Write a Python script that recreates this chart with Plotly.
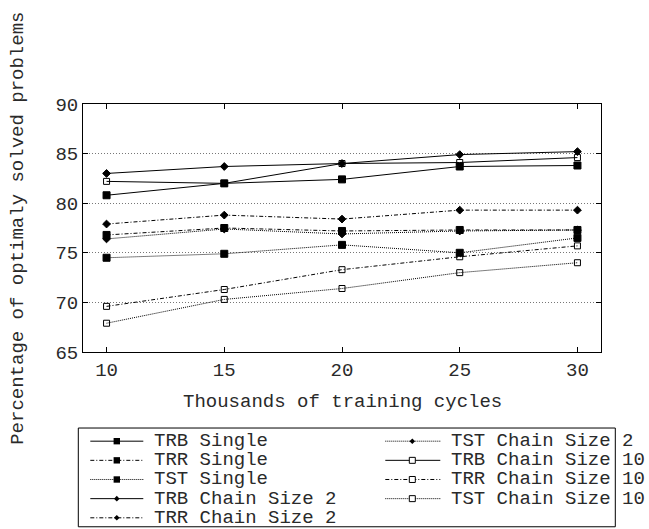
import plotly.graph_objects as go

# ---- data ----
cycles = [10, 15, 20, 25, 30]
trb_single = [80.8, 82.0, 82.4, 83.7, 83.8]
trr_single = [76.8, 77.5, 77.2, 77.3, 77.3]
tst_single = [74.5, 74.9, 75.8, 75.0, 76.5]
trb_chain2 = [83.0, 83.7, 84.0, 84.9, 85.2]
trr_chain2 = [77.9, 78.8, 78.4, 79.3, 79.3]
tst_chain2 = [76.4, 77.4, 76.9, 77.2, 77.3]
trb_chain10 = [82.2, 82.0, 84.0, 84.1, 84.6]
trr_chain10 = [69.6, 71.3, 73.3, 74.6, 75.7]
tst_chain10 = [67.9, 70.3, 71.4, 73.0, 74.0]

series_names = ["TRB Single", "TRR Single", "TST Single",
                "TRB Chain Size 2", "TRR Chain Size 2", "TST Chain Size 2",
                "TRB Chain Size 10", "TRR Chain Size 10", "TST Chain Size 10"]
series_values = [trb_single, trr_single, tst_single,
                 trb_chain2, trr_chain2, tst_chain2,
                 trb_chain10, trr_chain10, tst_chain10]
yticks = [65, 70, 75, 80, 85, 90]
xticks = [10, 15, 20, 25, 30]

# ---- styles ----
DASHDOT = "4px,2px,1px,2px"
DOT = "1px,1px"
dashes = ["solid", DASHDOT, DOT] * 3
symbols = ["square"] * 3 + ["diamond"] * 3 + ["square-open"] * 3
msizes = [7] * 3 + [6] * 3 + [6] * 3
FONT = "Liberation Mono, Courier New, monospace"
TXT = "#2a2a2a"

W, H = 649, 529
L, R, T, B = 82.7, 600.7, 103.7, 352.3

fig = go.Figure()
for name, vals, d, s, ms in zip(series_names, series_values, dashes, symbols, msizes):
    fig.add_trace(go.Scatter(
        x=cycles, y=vals, name=name, mode="lines+markers",
        line=dict(color="black", width=1, dash=d),
        marker=dict(symbol=s, size=ms, color="black",
                    line=dict(color="black", width=1)),
        showlegend=False))

def px2x(px):
    return (px - L) / (R - L)

def px2y(py):
    return (B - py) / (B - T)

shapes = []
annotations = []

# legend box
shapes.append(dict(type="rect", xref="paper", yref="paper",
                   x0=px2x(78), x1=px2x(615), y0=px2y(428.5), y1=px2y(527.5),
                   line=dict(color="black", width=1), fillcolor="rgba(0,0,0,0)"))

rows = [441.7, 460.9, 480.1, 499.3, 518.5]
cols = [(90, 143, 116.5, 153), (385, 440, 412, 450)]
for i, name in enumerate(series_names):
    c = 0 if i < 5 else 1
    r = i if i < 5 else i - 5
    x0, x1, xm, xt = cols[c]
    yy = rows[r]
    shapes.append(dict(type="line", xref="paper", yref="paper",
                       x0=px2x(x0), x1=px2x(x1), y0=px2y(yy), y1=px2y(yy),
                       line=dict(color="black", width=1, dash=dashes[i])))
    sym = symbols[i]
    if sym == "square":
        h = 3.2
        shapes.append(dict(type="rect", xref="paper", yref="paper",
                           x0=px2x(xm - h), x1=px2x(xm + h), y0=px2y(yy + h), y1=px2y(yy - h),
                           line=dict(color="black", width=0), fillcolor="black"))
    elif sym == "diamond":
        h = 2.8
        path = "M {} {} L {} {} L {} {} L {} {} Z".format(
            px2x(xm - h), px2y(yy), px2x(xm), px2y(yy - h),
            px2x(xm + h), px2y(yy), px2x(xm), px2y(yy + h))
        shapes.append(dict(type="path", xref="paper", yref="paper", path=path,
                           line=dict(color="black", width=0), fillcolor="black"))
    else:
        h = 3
        shapes.append(dict(type="rect", xref="paper", yref="paper",
                           x0=px2x(xm - h), x1=px2x(xm + h), y0=px2y(yy + h), y1=px2y(yy - h),
                           line=dict(color="black", width=1), fillcolor="white"))
    annotations.append(dict(text=name, xref="paper", yref="paper",
                            x=px2x(xt), y=px2y(yy), xanchor="left", yanchor="middle",
                            borderpad=0,
                            showarrow=False, font=dict(family=FONT, size=19, color=TXT)))

# axis titles
annotations.append(dict(text="Thousands of training cycles", xref="paper", yref="paper",
                        x=0.5, y=px2y(402), xanchor="center", yanchor="middle",
                        showarrow=False, font=dict(family=FONT, size=19, color=TXT)))
annotations.append(dict(text="Percentage of optimaly solved problems", xref="paper", yref="paper",
                        x=px2x(17.5), y=px2y(228), xanchor="center", yanchor="middle",
                        textangle=-90, showarrow=False,
                        font=dict(family=FONT, size=19, color=TXT)))

fig.update_layout(
    width=W, height=H,
    margin=dict(l=L, r=W - R, t=T, b=H - B, pad=0),
    paper_bgcolor="white", plot_bgcolor="white",
    showlegend=False,
    shapes=shapes, annotations=annotations,
    font=dict(family=FONT, size=19, color=TXT),
)
fig.update_xaxes(range=[9, 31], tickvals=xticks, ticktext=[str(v) for v in xticks],
                 showgrid=False, zeroline=False,
                 showline=True, linecolor="black", linewidth=1, mirror="ticks",
                 ticks="inside", ticklen=5, tickwidth=1, tickcolor="black",
                 tickfont=dict(family=FONT, size=19, color=TXT))
fig.update_yaxes(range=[65, 90], tickvals=yticks, ticktext=[str(v) for v in yticks],
                 showgrid=True, gridcolor="#777777", gridwidth=1, griddash="1px,2px",
                 zeroline=False,
                 showline=True, linecolor="black", linewidth=1, mirror="ticks",
                 ticks="inside", ticklen=5, tickwidth=1, tickcolor="black",
                 tickfont=dict(family=FONT, size=19, color=TXT))

fig.write_html("out.html", config={"displayModeBar": False},
               post_script="document.body.style.margin='0px';document.body.style.padding='0px';")
